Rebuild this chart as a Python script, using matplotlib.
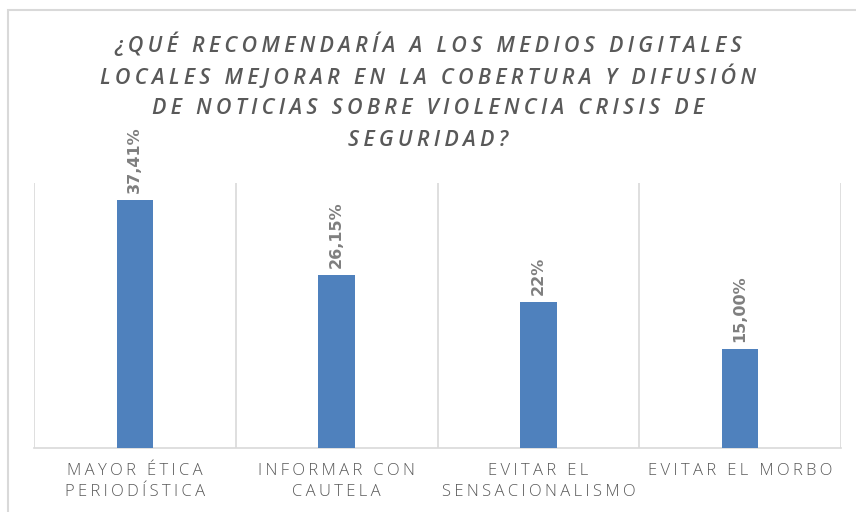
import matplotlib.pyplot as plt
from matplotlib.patches import Rectangle

categories = ["MAYOR ÉTICA\nPERIODÍSTICA", "INFORMAR CON\nCAUTELA",
              "EVITAR EL\nSENSACIONALISMO", "EVITAR EL MORBO"]
values = [37.41, 26.15, 22, 15.00]
labels = ["37,41%", "26,15%", "22%", "15,00%"]

title_lines = ["¿QUÉ RECOMENDARÍA A LOS MEDIOS DIGITALES",
               "LOCALES MEJORAR EN LA COBERTURA Y DIFUSIÓN",
               "DE NOTICIAS SOBRE VIOLENCIA CRISIS DE",
               "SEGURIDAD?"]


def spaced(s, gap="\u2009"):
    # letter spacing by thin spaces between characters
    return "\n".join(gap.join(line) for line in s.split("\n"))


fig = plt.figure(figsize=(8.56, 5.12), dpi=100)
# outer chart border (cut off at right / bottom)
fig.patches.append(Rectangle((8 / 856, -0.1), 1.2, 1 - 10 / 512 + 0.1,
                             transform=fig.transFigure, fill=False,
                             edgecolor="#d9d9d9", linewidth=1.5))

ax = fig.add_axes([34 / 856, 1 - 448 / 512, (841 - 34) / 856, (448 - 183) / 512])
x = range(len(values))
ax.bar(x, values, width=0.18, color="#4f81bd", zorder=3)
ax.set_xlim(-0.5, len(values) - 0.5)
ax.set_ylim(0, 40)

for b in [i - 0.5 for i in range(len(values) + 1)]:
    ax.axvline(b, color="#d9d9d9", linewidth=1.2, zorder=1)
for s in ["top", "left", "right"]:
    ax.spines[s].set_visible(False)
ax.spines["bottom"].set_color("#d9d9d9")
ax.spines["bottom"].set_linewidth(1.2)
ax.set_yticks([])
ax.set_xticks(list(x))
ax.set_xticklabels([spaced(c) for c in categories], fontsize=12, color="#595959",
                   family=["Open Sans", "DejaVu Sans"], fontweight="light",
                   linespacing=1.4)
ax.tick_params(axis="x", length=0, pad=11)

for i, (v, lab) in enumerate(zip(values, labels)):
    ax.annotate(lab, (i, v), xytext=(0, 5), textcoords="offset points",
                rotation=90, ha="center", va="bottom", fontsize=11.5,
                fontweight="bold", color="#7f7f7f",
                family=["DejaVu Sans"])

for k, line in enumerate(title_lines):
    fig.text(0.5, 1 - (45 + 32 * k) / 512, spaced(line), ha="center", va="center",
             fontsize=15.5, fontstyle="italic", fontweight="semibold",
             color="#595959", family=["Open Sans", "DejaVu Sans"])

fig.savefig("out.png", dpi=100, facecolor="white")
